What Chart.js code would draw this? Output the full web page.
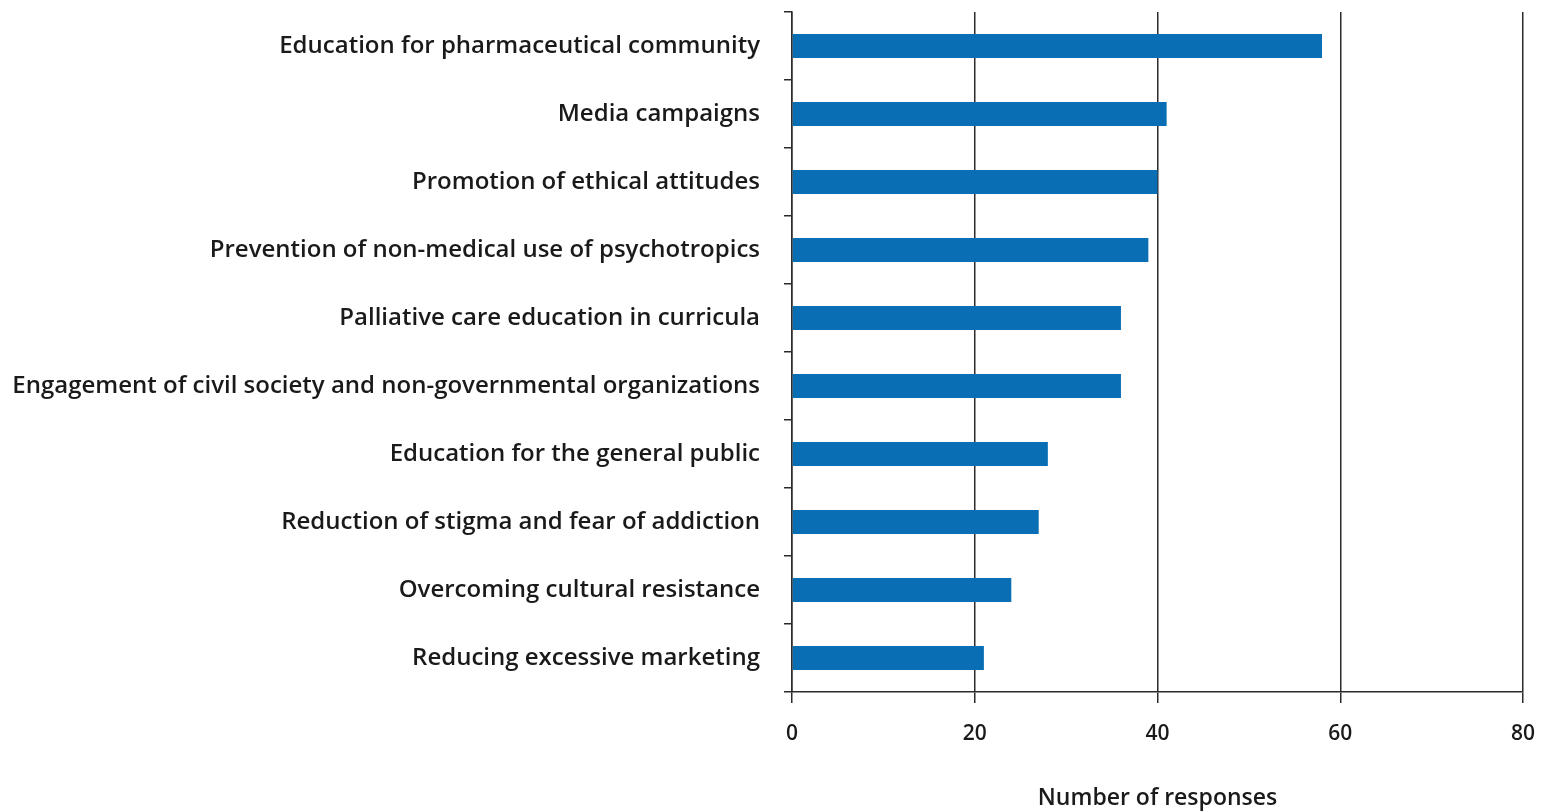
<!DOCTYPE html>
<html>
<head>
<meta charset="utf-8">
<script src="https://cdn.jsdelivr.net/npm/chart.js@4"></script>
<style>
  html, body { margin: 0; padding: 0; background: #fff; }
  #wrap { width: 1547px; height: 812px; }
</style>
</head>
<body>
<div id="wrap"><canvas id="chart"></canvas></div>
<script>
const categories = [
    'Education for pharmaceutical community',
    'Media campaigns',
    'Promotion of ethical attitudes',
    'Prevention of non-medical use of psychotropics',
    'Palliative care education in curricula',
    'Engagement of civil society and non-governmental organizations',
    'Education for the general public',
    'Reduction of stigma and fear of addiction',
    'Overcoming cultural resistance',
    'Reducing excessive marketing'
];
const responses = [58, 41, 40, 39, 36, 36, 28, 27, 24, 21];
const xTicks = [0, 20, 40, 60, 80];
const xTitle = 'Number of responses';

const lineColor = '#2b2b2b';
const textColor = '#1a1a1a';
const fontFamily = '"Open Sans", Lato, sans-serif';

const ctx = document.getElementById('chart').getContext('2d');
new Chart(ctx, {
    type: 'bar',
    data: {
        labels: categories,
        datasets: [{
            label: xTitle,
            data: responses,
            backgroundColor: '#0a6eb4',
            borderWidth: 0,
            categoryPercentage: 1,
            barPercentage: 0.35
        }]
    },
    options: {
        indexAxis: 'y',
        responsive: true,
        maintainAspectRatio: false,
        animation: false,
        layout: { padding: { top: 12, right: 24, left: 0, bottom: 0 } },
        plugins: {
            legend: { display: false },
            tooltip: { enabled: false }
        },
        scales: {
            x: {
                min: 0,
                max: 80,
                afterBuildTicks: (scale) => {
                    scale.ticks = xTicks.map(v => ({ value: v }));
                },
                afterFit: (scale) => {
                    scale.height = 120;
                    scale.paddingLeft = 0;
                    scale.paddingRight = 0;
                },
                grid: {
                    color: lineColor,
                    lineWidth: 1.5,
                    tickLength: 11
                },
                border: { display: true, color: lineColor, width: 1.5 },
                ticks: {
                    color: textColor,
                    padding: 18,
                    font: { family: fontFamily, size: 21, weight: 600 }
                },
                title: {
                    display: true,
                    text: xTitle,
                    color: textColor,
                    padding: { top: 26, bottom: 0 },
                    font: { family: fontFamily, size: 23, weight: 600 }
                }
            },
            y: {
                afterFit: (scale) => {
                    scale.width = 792;
                    scale.paddingTop = 0;
                    scale.paddingBottom = 0;
                },
                grid: {
                    offset: true,
                    drawOnChartArea: false,
                    color: lineColor,
                    lineWidth: 1.5,
                    tickLength: 8
                },
                border: { display: true, color: lineColor, width: 1.5 },
                ticks: {
                    color: textColor,
                    padding: 24,
                    font: { family: fontFamily, size: 24, weight: 600 }
                }
            }
        }
    }
});
</script>
</body>
</html>
